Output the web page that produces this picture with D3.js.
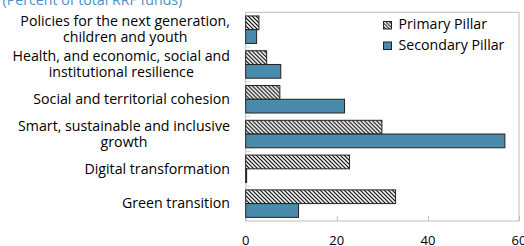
<!DOCTYPE html>
<html>
<head>
<meta charset="utf-8">
<script src="https://cdn.jsdelivr.net/npm/d3@7"></script>
<style>
  html, body { margin: 0; padding: 0; background: #fff; }
  svg { display: block; }
  text { font-family: "Open Sans", "Noto Sans", sans-serif; fill: #000; }
</style>
</head>
<body>
<svg id="chart" width="524" height="246"></svg>
<script>
const title = "(Percent of total RRF funds)";
const categories = [
  ["Policies for the next generation,", "children and youth"],
  ["Health, and economic, social and", "institutional resilience"],
  ["Social and territorial cohesion"],
  ["Smart, sustainable and inclusive", "growth"],
  ["Digital transformation"],
  ["Green transition"]
];
const seriesNames = ["Primary Pillar", "Secondary Pillar"];
const primary   = [2.9, 4.6, 7.5, 29.9, 22.8, 32.9];
const secondary = [2.4, 7.7, 21.7, 56.9, 0.2, 11.6];
const xTicks = [0, 20, 40, 60];

const svg = d3.select("#chart");
const plot = { left: 245.7, right: 519, top: 12.3, bottom: 221 };
const blue = "#4A8BAD";
const fs = 14.2;

// patterns
const defs = svg.append("defs");
const pat = defs.append("pattern")
  .attr("id", "hatch").attr("patternUnits", "userSpaceOnUse")
  .attr("width", 4).attr("height", 4);
pat.append("rect").attr("width", 4).attr("height", 4).attr("fill", "#fff");
pat.append("path").attr("d", "M-1,-1 L5,5 M3,-1 L5,1 M-1,3 L1,5")
  .attr("stroke", "#000").attr("stroke-width", 1.2);
const patL = defs.append("pattern")
  .attr("id", "hatchL").attr("patternUnits", "userSpaceOnUse")
  .attr("width", 3.5).attr("height", 3.5);
patL.append("rect").attr("width", 3.5).attr("height", 3.5).attr("fill", "#fff");
patL.append("path").attr("d", "M-1,-1 L4.5,4.5 M2.5,-1 L4.5,1 M-1,2.5 L1,4.5")
  .attr("stroke", "#000").attr("stroke-width", 1);

const x = d3.scaleLinear().domain([0, 60]).range([plot.left, plot.right]);
const idx = d3.range(categories.length);
const y0 = d3.scaleBand().domain(idx).range([plot.top, plot.bottom]).paddingInner(0.21).paddingOuter(0.105);
const y1 = d3.scaleBand().domain([0, 1]).range([0, y0.bandwidth()]);
const yBoundary = d3.scaleBand().domain(idx).range([plot.top, plot.bottom]);

// title
svg.append("text").attr("x", 2.5).attr("y", 5)
  .attr("font-size", fs).style("fill", "#4A90C8").text(title);

// plot frame
svg.append("rect")
  .attr("x", plot.left).attr("y", plot.top)
  .attr("width", plot.right - plot.left).attr("height", plot.bottom - plot.top)
  .attr("fill", "none").attr("stroke", "#BFBFBF").attr("stroke-width", 1);

// x axis ticks (inside, upward)
const xAxis = d3.axisBottom(x).tickValues(xTicks).tickSize(-5).tickFormat("");
const gx = svg.append("g").attr("transform", `translate(0,${plot.bottom})`).call(xAxis);
gx.select(".domain").remove();
gx.selectAll("line").attr("stroke", "#BFBFBF");
svg.append("g").selectAll("text").data(xTicks).join("text")
  .attr("x", d => x(d)).attr("y", 245).attr("text-anchor", "middle")
  .attr("font-size", 13).text(d => d);

// y boundary ticks (inside, rightward)
const bounds = d3.range(1, categories.length).map(i => yBoundary(i));
svg.append("g").selectAll("line").data(bounds).join("line")
  .attr("x1", plot.left).attr("x2", plot.left + 5)
  .attr("y1", d => d).attr("y2", d => d)
  .attr("stroke", "#D9D9D9");

// bars
const data = idx.map(i => ({ i, vals: [primary[i], secondary[i]] }));
const groups = svg.append("g").selectAll("g").data(data).join("g")
  .attr("transform", d => `translate(0,${y0(d.i)})`);
groups.selectAll("rect").data(d => d.vals.map((v, s) => ({ v, s }))).join("rect")
  .attr("x", x(0))
  .attr("y", d => y1(d.s))
  .attr("width", d => x(d.v) - x(0))
  .attr("height", y1.bandwidth())
  .attr("fill", d => d.s === 0 ? "url(#hatch)" : blue)
  .attr("stroke", "#222").attr("stroke-width", 1);

// category labels: each block centered, widest line right-aligned at 230
const labelRight = 230, lineH = 16;
const lg = svg.append("g");
categories.forEach((lines, i) => {
  const cy = yBoundary(i) + yBoundary.bandwidth() / 2;
  const t = lg.append("text").attr("font-size", fs).attr("text-anchor", "middle");
  const n = lines.length;
  lines.forEach((ln, k) => {
    t.append("tspan").attr("x", 0)
      .attr("y", cy + (k - (n - 1) / 2) * lineH + 4.8).text(ln);
  });
  const maxW = d3.max(t.selectAll("tspan").nodes(), nd => nd.getComputedTextLength());
  t.selectAll("tspan").attr("x", labelRight - maxW / 2);
});

// legend
const legY = [25, 45.5];
const leg = svg.append("g");
seriesNames.forEach((name, s) => {
  leg.append("rect").attr("x", 383.5).attr("y", legY[s] - 3.5)
    .attr("width", 8).attr("height", 7.5)
    .attr("fill", s === 0 ? "url(#hatchL)" : blue)
    .attr("stroke", "#222").attr("stroke-width", 1);
  leg.append("text").attr("x", 398.5).attr("y", legY[s] + 4.2)
    .attr("font-size", fs).text(name);
});
</script>
</body>
</html>
